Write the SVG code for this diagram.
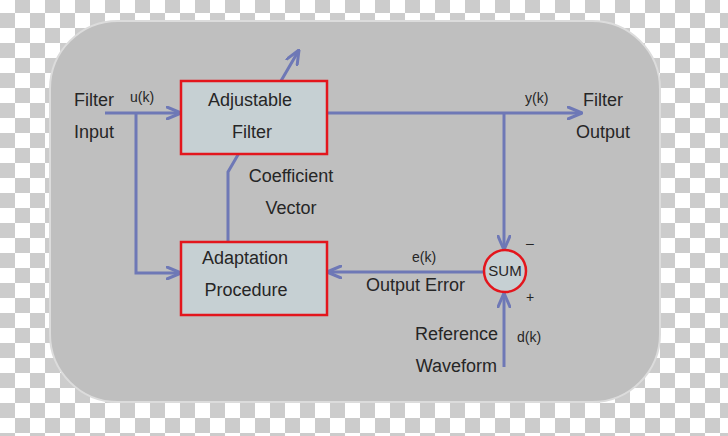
<svg xmlns="http://www.w3.org/2000/svg" width="728" height="436" viewBox="0 0 728 436">
<defs>
<pattern id="checker" x="0" y="-2" width="30" height="30" patternUnits="userSpaceOnUse">
<rect x="0" y="0" width="30" height="30" fill="#ffffff"/>
<rect x="15" y="0" width="15" height="15" fill="#cccccc"/>
<rect x="0" y="15" width="15" height="15" fill="#cccccc"/>
</pattern>
<marker id="arr" viewBox="0 0 16 14" refX="15" refY="7" markerWidth="16" markerHeight="14" markerUnits="userSpaceOnUse" orient="auto">
<path d="M1,1 L15,7 L1,13" fill="none" stroke="#6e78b6" stroke-width="3" stroke-linejoin="round" stroke-linecap="round"/>
</marker>
</defs>
<style>
.t{font-family:"Liberation Sans",Arial,sans-serif;font-size:18px;fill:#262626}
.s{font-family:"Liberation Sans",Arial,sans-serif;font-size:14px;fill:#262626}
.c{fill:none;stroke:#6e78b6;stroke-width:3}
.box{fill:#c6d0d3;stroke:#e3161d;stroke-width:2.5}
</style>
<rect x="0" y="0" width="728" height="436" fill="url(#checker)"/>
<rect x="50" y="21" width="610" height="381" rx="68" ry="68" fill="#bfbfbf" stroke="#dcdcdc" stroke-width="2"/>
<g id="connectors">
<polyline class="c" points="228,242 228,172 299,50" marker-end="url(#arr)"/>
<line class="c" x1="105" y1="113" x2="181" y2="113" marker-end="url(#arr)"/>
<polyline class="c" points="136,113 136,273 181,273" marker-end="url(#arr)"/>
<line class="c" x1="327" y1="113" x2="582" y2="113" marker-end="url(#arr)"/>
<line class="c" x1="504" y1="113" x2="504" y2="250" marker-end="url(#arr)"/>
<line class="c" x1="484" y1="272" x2="327" y2="272" marker-end="url(#arr)"/>
<line class="c" x1="504" y1="367" x2="504" y2="293" marker-end="url(#arr)"/>
</g>
<g id="adjustable-filter">
<rect class="box" x="181" y="81" width="146" height="73"/>
<text class="t" x="250" y="106" text-anchor="middle">Adjustable</text>
<text class="t" x="252" y="138" text-anchor="middle">Filter</text>
</g>
<g id="adaptation-procedure">
<rect class="box" x="181" y="242" width="146" height="73"/>
<text class="t" x="245" y="264" text-anchor="middle">Adaptation</text>
<text class="t" x="246" y="296" text-anchor="middle">Procedure</text>
</g>
<g id="sum">
<circle class="box" cx="505" cy="271" r="21"/>
<text class="s" x="505" y="276" text-anchor="middle" style="font-size:15px">SUM</text>
<text class="s" x="530" y="248" text-anchor="middle">–</text>
<text class="s" x="530" y="302" text-anchor="middle">+</text>
</g>
<g id="labels">
<text class="t" x="74" y="106">Filter</text>
<text class="t" x="74" y="138">Input</text>
<text class="s" x="130" y="102">u(k)</text>
<text class="s" x="525" y="103">y(k)</text>
<text class="t" x="603" y="106" text-anchor="middle">Filter</text>
<text class="t" x="603" y="138" text-anchor="middle">Output</text>
<text class="t" x="291" y="182" text-anchor="middle">Coefficient</text>
<text class="t" x="291" y="214" text-anchor="middle">Vector</text>
<text class="s" x="424" y="262" text-anchor="middle">e(k)</text>
<text class="t" x="465" y="291" text-anchor="end">Output Error</text>
<text class="t" x="498" y="340" text-anchor="end">Reference</text>
<text class="t" x="497" y="372" text-anchor="end">Waveform</text>
<text class="s" x="517" y="342">d(k)</text>
</g>
</svg>
